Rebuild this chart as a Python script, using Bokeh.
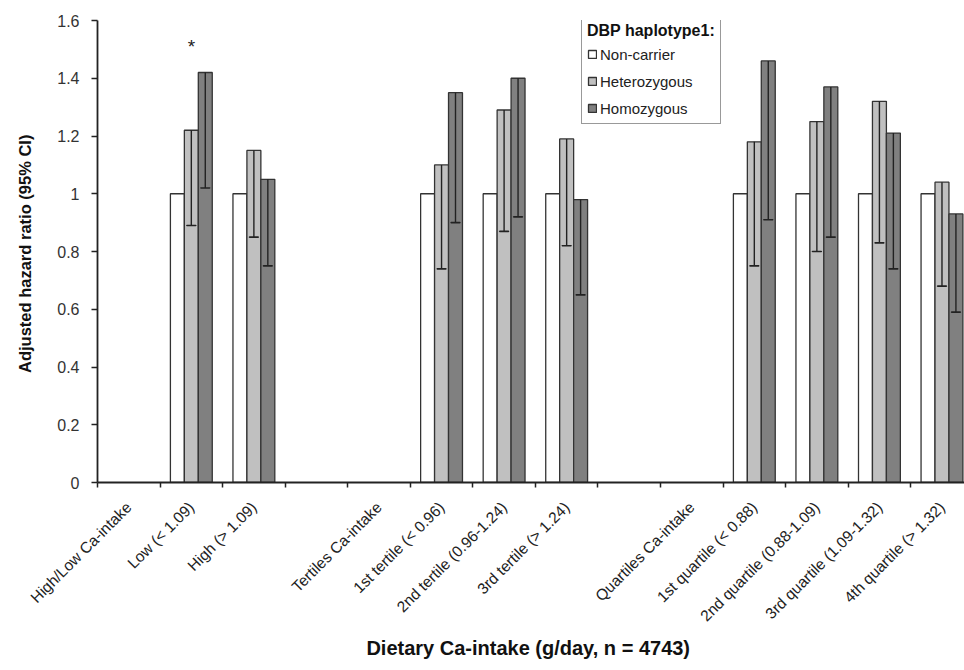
import math
from bokeh.plotting import figure
from bokeh.models import FixedTicker, Legend, LegendItem, ColumnDataSource, Range1d
from bokeh.core.properties import value
from bokeh.embed import file_html
from bokeh.resources import INLINE

# ---- data ----
categories = ["High/Low Ca-intake", "Low (< 1.09)", "High (> 1.09)", " ",
              "Tertiles Ca-intake", "1st tertile (< 0.96)", "2nd tertile (0.96-1.24)",
              "3rd tertile (> 1.24)", "  ", "Quartiles Ca-intake", "1st quartile (< 0.88)",
              "2nd quartile (0.88-1.09)", "3rd quartile (1.09-1.32)", "4th quartile (> 1.32)"]
bar_groups = ["Low (< 1.09)", "High (> 1.09)", "1st tertile (< 0.96)", "2nd tertile (0.96-1.24)",
              "3rd tertile (> 1.24)", "1st quartile (< 0.88)", "2nd quartile (0.88-1.09)",
              "3rd quartile (1.09-1.32)", "4th quartile (> 1.32)"]
noncarrier = [1, 1, 1, 1, 1, 1, 1, 1, 1]
heterozygous = [1.22, 1.15, 1.10, 1.29, 1.19, 1.18, 1.25, 1.32, 1.04]
homozygous = [1.42, 1.05, 1.35, 1.40, 0.98, 1.46, 1.37, 1.21, 0.93]
hetero_lower = [0.89, 0.85, 0.74, 0.87, 0.82, 0.75, 0.80, 0.83, 0.68]
homo_lower = [1.02, 0.75, 0.90, 0.92, 0.65, 0.91, 0.85, 0.74, 0.59]
series_names = ["Non-carrier", "Heterozygous", "Homozygous"]
series_colors = ["#ffffff", "#c0c0c0", "#808080"]
y_ticks = [0, 0.2, 0.4, 0.6, 0.8, 1, 1.2, 1.4, 1.6]
star_group = "Low (< 1.09)"
star_value = 1.51

FONT = "Liberation Sans"
BW = 0.223

p = figure(width=964, height=670, output_backend="svg", toolbar_location=None,
           x_range=Range1d(0, 13.86), y_range=Range1d(0, 1.6),
           min_border_left=97, min_border_top=20, min_border_right=0,
           min_border_bottom=188)
p.frame_width = 867
p.frame_height = 462
p.outline_line_color = None
p.xgrid.visible = False
p.ygrid.visible = False
p.background_fill_color = "white"
p.border_fill_color = "white"

centers = [categories.index(g) + 0.5 for g in bar_groups]
renderers = []
for k, (vals, col) in enumerate(zip([noncarrier, heterozygous, homozygous], series_colors)):
    xs = [c + (k - 1) * BW for c in centers]
    src = ColumnDataSource(dict(x=xs, top=vals))
    r = p.vbar(x="x", top="top", bottom=0, width=BW, source=src,
               fill_color=col, line_color="#333333", line_width=1.3)
    renderers.append(r)

# error bars (lower CI)
for k, (vals, lows) in enumerate([(heterozygous, hetero_lower), (homozygous, homo_lower)], start=1):
    xs = [c + (k - 1) * BW for c in centers]
    src = ColumnDataSource(dict(x=xs, y0=vals, y1=lows))
    p.segment(x0="x", y0="y0", x1="x", y1="y1", source=src, line_color="#222222", line_width=1.4)
    p.rect(x="x", y="y1", width=9, height=0.001, width_units="screen", height_units="data",
           source=src, line_color="#222222", line_width=1.4, fill_color=None)

# asterisk
p.text(x=[categories.index(star_group) + 0.5], y=[star_value], text=["*"],
       text_align="center", text_baseline="middle", text_font=value(FONT),
       text_font_size="19px", text_color="#222222")

# axes
p.xaxis.ticker = FixedTicker(ticks=[i + 0.5 for i in range(len(categories))],
                             minor_ticks=list(range(len(categories) + 1)))
p.xaxis.major_label_overrides = {i + 0.5: lab for i, lab in enumerate(categories)}
p.xaxis.major_tick_out = 0
p.xaxis.major_tick_in = 0
p.xaxis.minor_tick_out = 5
p.xaxis.minor_tick_in = 0
p.xaxis.minor_tick_line_color = "#222222"
p.xaxis.minor_tick_line_width = 1.5
p.xaxis.major_label_orientation = math.pi / 4
p.xaxis.major_label_text_font = FONT
p.xaxis.major_label_text_font_size = "15.5px"
p.xaxis.major_label_text_color = "#222222"
p.xaxis.major_label_standoff = 17
p.xaxis.axis_line_color = "#222222"
p.xaxis.axis_line_width = 1.8
p.xaxis.axis_label = "Dietary Ca-intake  (g/day, n = 4743)"
p.xaxis.axis_label_text_font = FONT
p.xaxis.axis_label_text_font_style = "bold"
p.xaxis.axis_label_text_font_size = "20px"
p.xaxis.axis_label_text_color = "#111111"
p.xaxis.axis_label_standoff = 4

p.yaxis.ticker = FixedTicker(ticks=y_ticks)
p.yaxis.major_label_overrides = {t: ("%g" % t) for t in y_ticks}
p.yaxis.minor_tick_line_color = None
p.yaxis.major_tick_out = 6
p.yaxis.major_tick_in = 0
p.yaxis.major_tick_line_color = "#222222"
p.yaxis.major_tick_line_width = 1.5
p.yaxis.axis_line_color = "#222222"
p.yaxis.axis_line_width = 1.8
p.yaxis.major_label_text_font = FONT
p.yaxis.major_label_text_font_size = "16px"
p.yaxis.major_label_text_color = "#333333"
p.yaxis.major_label_standoff = 12
p.yaxis.axis_label = "Adjusted hazard ratio  (95% CI)"
p.yaxis.axis_label_text_font = FONT
p.yaxis.axis_label_text_font_style = "bold"
p.yaxis.axis_label_text_font_size = "16.5px"
p.yaxis.axis_label_text_color = "#111111"
p.yaxis.axis_label_standoff = 20

legend = Legend(items=[LegendItem(label=n, renderers=[r]) for n, r in zip(series_names, renderers)],
                location=(484, 358), title="DBP haplotype1:")
legend.title_text_font = FONT
legend.title_text_font_style = "bold"
legend.title_text_font_size = "16px"
legend.title_text_color = "#111111"
legend.title_standoff = 4
legend.label_text_font = FONT
legend.label_text_font_size = "15px"
legend.label_text_color = "#222222"
legend.glyph_width = 10
legend.glyph_height = 10
legend.label_standoff = 3
legend.spacing = 7
legend.label_height = 20
legend.padding = 5
legend.margin = 0
legend.border_line_color = "#333333"
legend.border_line_width = 1.3
legend.background_fill_alpha = 1
p.add_layout(legend, "center")

open("out.html", "w").write(file_html(p, INLINE))
